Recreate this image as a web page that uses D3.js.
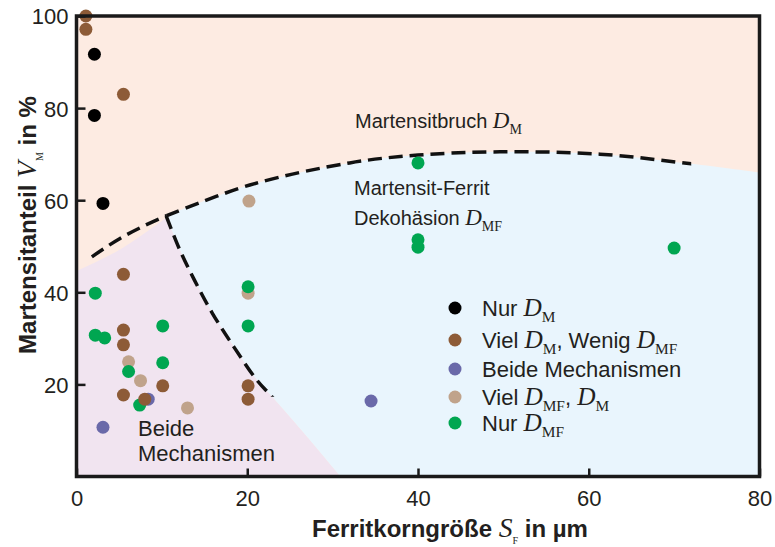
<!DOCTYPE html>
<html>
<head>
<meta charset="utf-8">
<script src="https://cdn.jsdelivr.net/npm/d3@7"></script>
<style>
  body { margin: 0; background: #fff; }
</style>
</head>
<body>
<svg id="chart" width="775" height="547"></svg>
<script>
// -------------- DATA ----------------- //
// points as [Ferritkorngröße S_F (µm), Martensitanteil V_M (%)]
const nurDM = [[2.1, 91.7], [2.1, 78.4], [3.1, 59.3]];
const vielDMwenigDMF = [[1.1, 100], [1.1, 97.1], [5.5, 83.0], [5.5, 43.9], [5.5, 31.8], [5.5, 28.6],
  [5.5, 17.7], [8.0, 16.8], [10.1, 19.7], [20.1, 19.7], [20.1, 16.8]];
const beideMech = [[8.4, 16.8], [3.1, 10.7], [34.5, 16.4]];
const vielDMFDM = [[6.1, 24.9], [7.5, 20.8], [13.0, 14.9], [20.1, 39.8], [20.2, 59.8]];
const nurDMF = [[2.2, 39.8], [2.2, 30.7], [3.3, 30.1], [6.1, 22.8], [7.4, 15.5], [10.1, 32.7],
  [10.1, 24.7], [20.1, 41.2], [20.1, 32.7], [40, 68.1], [40, 51.4], [40, 49.8], [70, 49.6]];

const xTicks = [0, 20, 40, 60, 80];
const yTicks = [20, 40, 60, 80, 100];

// region boundaries (data coordinates)
const upperBoundary = [[10.5, 56.6], [20.3, 63.3], [32, 68.1], [40, 69.8], [49.6, 70.5],
  [61.3, 70.0], [72, 67.9], [80, 66.0]];
const upperLeftDash = [[1.8, 47.7], [5.1, 51.7], [10.5, 56.6], [20.3, 63.3]];
const lavenderTop = [[0, 44.6], [5.1, 49.3], [10.5, 56.2]];
const lowerBoundary = [[10.5, 56.6], [12.1, 49.2], [13.8, 42.7], [15.9, 35.5], [18.45, 28.1],
  [21.1, 21.0], [22.9, 17.3], [27.0, 8.6], [30.9, 0]];

// -------------- SETUP ----------------- //
const svg = d3.select("#chart");
const x = d3.scaleLinear().domain([0, 80]).range([76.5, 759.5]);
const y = d3.scaleLinear().domain([0, 100]).range([476.5, 16]);

const SANS = "Arial, 'Liberation Sans', Helvetica, sans-serif";
const SERIF = "'Times New Roman', 'Liberation Serif', serif";

const curve = d3.line().x(d => x(d[0])).y(d => y(d[1])).curve(d3.curveCatmullRom.alpha(0.5));
const asL = p => "L" + p.slice(1);

// -------------- BACKGROUND ----------------- //
svg.append("rect")
  .attr("x", x(0)).attr("y", y(100))
  .attr("width", x(80) - x(0)).attr("height", y(0) - y(100))
  .attr("fill", "#fdebe2");

// blue region (Martensit-Ferrit Dekohäsion)
const bluePath = curve(upperBoundary)
  + `L${x(80)},${y(0)}L${x(30.9)},${y(0)}`
  + asL(curve(lowerBoundary.slice().reverse())) + "Z";
svg.append("path").attr("d", bluePath).attr("fill", "#e9f5fd");

// lavender region (beide Mechanismen)
const lavPath = curve(lavenderTop) + asL(curve(lowerBoundary)) + `L${x(0)},${y(0)}Z`;
svg.append("path").attr("d", lavPath).attr("fill", "#f1e4f0");

// -------------- DASHED BOUNDARIES ----------------- //
const defs = svg.append("defs");
defs.append("clipPath").attr("id", "clipUpper").append("rect")
  .attr("x", x(10.5)).attr("y", 0).attr("width", x(72) - x(10.5)).attr("height", 547);
defs.append("clipPath").attr("id", "clipLeft").append("rect")
  .attr("x", 0).attr("y", 0).attr("width", x(10.5)).attr("height", 547);
defs.append("clipPath").attr("id", "clipLower").append("rect")
  .attr("x", 0).attr("y", 0).attr("width", 775).attr("height", y(17.3));

const dashStyle = sel => sel.attr("fill", "none").attr("stroke", "#111")
  .attr("stroke-width", 3.5).attr("stroke-dasharray", "14,7");

svg.append("path").attr("d", curve(upperBoundary)).attr("clip-path", "url(#clipUpper)").call(dashStyle);
svg.append("path").attr("d", curve(upperLeftDash)).attr("clip-path", "url(#clipLeft)").call(dashStyle);
svg.append("path").attr("d", curve(lowerBoundary)).attr("clip-path", "url(#clipLower)").call(dashStyle);

// -------------- TEXT HELPER ----------------- //
// parts: [text, kind] with kind "n" (sans), "i" (italic serif), "s" (serif subscript)
function richText(parent, px, py, parts, size, opts = {}) {
  const t = parent.append("text")
    .attr("x", px).attr("y", py)
    .attr("font-family", SANS).attr("font-size", size)
    .attr("font-weight", opts.bold ? "bold" : "normal")
    .attr("fill", "#231f20");
  if (opts.anchor) t.attr("text-anchor", opts.anchor);
  if (opts.transform) t.attr("transform", opts.transform);
  const subShift = size * 0.28;
  let shifted = false;
  parts.forEach(([str, kind]) => {
    const ts = t.append("tspan").text(str);
    let dy = 0;
    if (kind === "s" && !shifted) { dy = subShift; shifted = true; }
    else if (kind !== "s" && shifted) { dy = -subShift; shifted = false; }
    if (dy) ts.attr("dy", dy);
    if (kind === "i") {
      ts.attr("font-family", SERIF).attr("font-style", "italic")
        .attr("font-weight", "normal").attr("font-size", size * 1.15);
    } else if (kind === "s") {
      ts.attr("font-family", SERIF).attr("font-weight", "normal")
        .attr("font-size", size * (opts.subScale || 0.7));
    }
  });
  return t;
}

// -------------- ANNOTATIONS ----------------- //
richText(svg, 355, 128, [["Martensitbruch ", "n"], ["D", "i"], ["M", "s"]], 20);
richText(svg, 354, 195, [["Martensit-Ferrit", "n"]], 20);
richText(svg, 354, 225, [["Dekohäsion ", "n"], ["D", "i"], ["MF", "s"]], 20);
richText(svg, 138, 436, [["Beide", "n"]], 22);
richText(svg, 138, 461, [["Mechanismen", "n"]], 22);

// -------------- POINTS ----------------- //
const series = [
  { data: vielDMFDM, color: "#c0a38b" },
  { data: beideMech, color: "#6a69a9" },
  { data: nurDMF, color: "#00a651" },
  { data: vielDMwenigDMF, color: "#8d5b37" },
  { data: nurDM, color: "#000000" }
];
series.forEach(s => {
  svg.append("g").selectAll("circle").data(s.data).join("circle")
    .attr("cx", d => x(d[0])).attr("cy", d => y(d[1]))
    .attr("r", 6.5).attr("fill", s.color);
});

// -------------- LEGEND ----------------- //
const legend = [
  { color: "#000000", cy: 308, parts: [["Nur ", "n"], ["D", "i"], ["M", "s"]] },
  { color: "#8d5b37", cy: 340, parts: [["Viel ", "n"], ["D", "i"], ["M", "s"], [", Wenig ", "n"], ["D", "i"], ["MF", "s"]] },
  { color: "#6a69a9", cy: 369, parts: [["Beide Mechanismen", "n"]] },
  { color: "#c0a38b", cy: 397, parts: [["Viel ", "n"], ["D", "i"], ["MF", "s"], [", ", "n"], ["D", "i"], ["M", "s"]] },
  { color: "#00a651", cy: 423, parts: [["Nur ", "n"], ["D", "i"], ["MF", "s"]] }
];
legend.forEach(l => {
  svg.append("circle").attr("cx", 455).attr("cy", l.cy).attr("r", 6.5).attr("fill", l.color);
  richText(svg, 482, l.cy + 7.5, l.parts, 22);
});

// -------------- AXES / FRAME ----------------- //
const xAxis = svg.append("g").attr("transform", `translate(0,${y(0)})`)
  .call(d3.axisBottom(x).tickValues(xTicks).tickSizeInner(-8).tickSizeOuter(0).tickPadding(14));
const yAxis = svg.append("g").attr("transform", `translate(${x(0)},0)`)
  .call(d3.axisLeft(y).tickValues(yTicks).tickSizeInner(-9).tickSizeOuter(0).tickPadding(8));
[xAxis, yAxis].forEach(a => {
  a.select(".domain").remove();
  a.selectAll(".tick line").attr("stroke", "#1a1a1a").attr("stroke-width", 2.5);
  a.selectAll(".tick text").attr("font-family", SANS).attr("font-size", 22).attr("fill", "#231f20");
});
xAxis.selectAll(".tick text").attr("dy", "0.71em");
yAxis.selectAll(".tick text").attr("dy", "0.36em");

svg.append("rect")
  .attr("x", x(0)).attr("y", y(100))
  .attr("width", x(80) - x(0)).attr("height", y(0) - y(100))
  .attr("fill", "none").attr("stroke", "#1a1a1a").attr("stroke-width", 3.5);

// axis titles
richText(svg, 450, 537, [["Ferritkorngröße ", "n"], ["S", "i"], ["F", "s"], [" in µm", "n"]], 24,
  { bold: true, anchor: "middle", subScale: 0.42 });
richText(svg, 0, 0, [["Martensitanteil ", "n"], ["V", "i"], ["M", "s"], [" in %", "n"]], 24,
  { bold: true, anchor: "middle", subScale: 0.42, transform: `translate(36,225) rotate(-90)` });
</script>
</body>
</html>
